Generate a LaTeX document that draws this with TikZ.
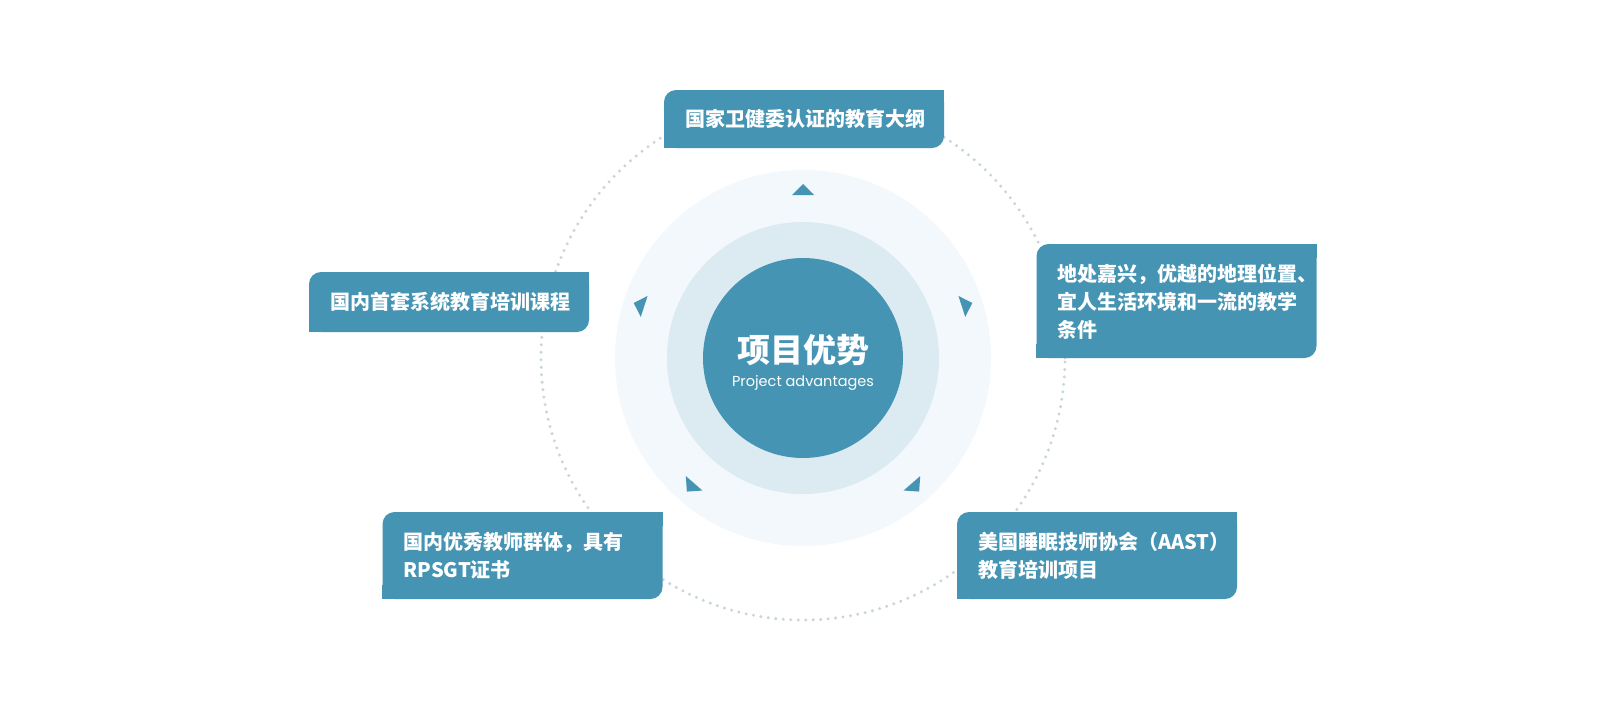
\documentclass[tikz,border=0pt]{standalone}
\usepackage{fontspec}
\newfontfamily\cjk{Noto Sans CJK SC}
\newfontfamily\pop{Poppins}
\usetikzlibrary{calc}
\definecolor{teal1}{HTML}{4594B4}
\definecolor{midc}{HTML}{DCEBF1}
\definecolor{outc}{HTML}{F2F8FB}
\definecolor{dotc}{HTML}{C8D6DC}
\tikzset{
  box/.style={fill=teal1, rounded corners=12pt, minimum width=280pt, inner sep=0pt, draw=none},
  btxt/.style={anchor=west, align=left, text=white, inner sep=0pt, font=\cjk\bfseries\fontsize{20}{28}\selectfont},
  tri/.style={fill=teal1},
}
\begin{document}
\begin{tikzpicture}[x=1pt,y=-1pt]
\useasboundingbox (0,0) rectangle (1600,705);
\fill[white] (0,0) rectangle (1600,705);
\coordinate (o) at (803,358);
\fill[outc] (o) circle[radius=188pt];
\fill[midc] (o) circle[radius=136pt];
\draw[dotc, line width=3.3pt, line cap=round, dash pattern=on 0pt off 7.5pt] (o) circle[radius=262pt];
\node[circle, fill=teal1, minimum size=200pt, inner sep=0pt] (c) at (o) {};
\node[text=white, inner sep=0pt, font=\cjk\bfseries\fontsize{33}{38}\selectfont] (ct) at (803,350) {项目优势};
\node[text=white, inner sep=0pt, font=\pop\fontsize{14.5}{16}\selectfont] (cs) at (803,383) {Project advantages};
% triangles
\foreach \a/\r in {90/163,162/167,18/167,229/166,311/166}{
  \fill[tri] ($(o)+(-\a:\r+11)$) -- ($(o)+(-\a:\r)+(-\a+90:11)$) -- ($(o)+(-\a:\r)+(-\a-90:11)$) -- cycle;
}
% boxes
\node[box, minimum height=58pt] (b1) at (804,119) {};
\node[box, minimum height=60pt] (b2) at (449,302) {};
\node[box, minimum height=114pt] (b3) at (1176.5,301) {};
\node[box, minimum height=87pt] (b4) at (522.5,555.5) {};
\node[box, minimum height=87pt] (b5) at (1097,555.5) {};
\foreach \b in {b1,b2,b3,b4,b5}{
  \fill[teal1] (\b.north east) rectangle ++(-14,14);
  \fill[teal1] (\b.south west) rectangle ++(14,-14);
}
\node[btxt] (t1) at ([xshift=21pt]b1.west) {国家卫健委认证的教育大纲};
\node[btxt] (t2) at ([xshift=21pt]b2.west) {国内首套系统教育培训课程};
\node[btxt] (t3) at ([xshift=21pt,yshift=-1pt]b3.west) {地处嘉兴，优越的地理位置、\\宜人生活环境和一流的教学\\条件};
\node[btxt] (t4) at ([xshift=21pt]b4.west) {国内优秀教师群体，具有\\RPSGT证书};
\node[btxt] (t5) at ([xshift=21pt]b5.west) {美国睡眠技师协会（AAST）\\教育培训项目};
\end{tikzpicture}
\end{document}
